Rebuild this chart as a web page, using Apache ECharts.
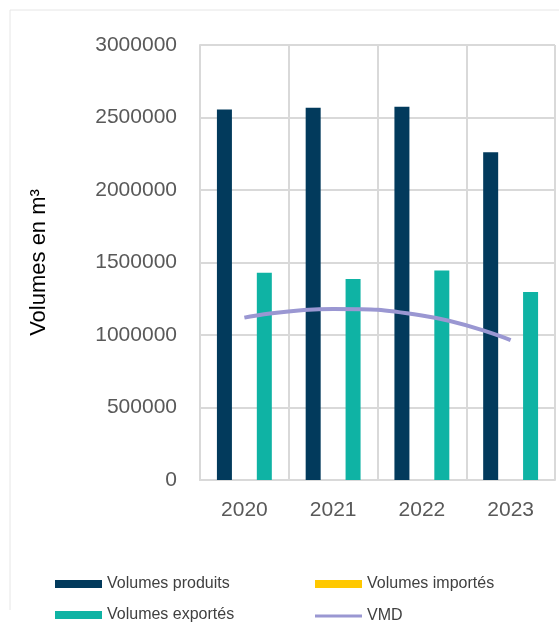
<!DOCTYPE html>
<html>
<head>
<meta charset="utf-8">
<script src="https://cdn.jsdelivr.net/npm/echarts@6/dist/echarts.min.js"></script>
<style>
  html, body { margin: 0; padding: 0; background: #fff; }
  #container { width: 559px; height: 626px; }
</style>
</head>
<body>
<div id="container"></div>
<script>
(function() {
"use strict";

    // data
    var years = ['2020', '2021', '2022', '2023'];
    var produits = [2555000, 2568000, 2575000, 2260000];
    var importes = [0, 0, 0, 0];
    var exportes = [1430000, 1386000, 1444000, 1297000];
    var vmd = [1120000, 1180000, 1135000, 965000];
    var yTicks = [0, 500000, 1000000, 1500000, 2000000, 2500000, 3000000];

    var font = '"Liberation Sans", Arial, sans-serif';
    var gridColor = '#d9d9d9';

    var dom = document.getElementById("container");
    var myChart = echarts.init(dom, null, { renderer: 'canvas' });

    function legendItem(name, left, top, h) {
        return {
            data: [name],
            left: left,
            top: top,
            itemWidth: 47,
            itemHeight: h,
            icon: 'rect',
            itemGap: 0,
            selectedMode: false,
            textStyle: { fontFamily: font, fontSize: 16, color: '#404040' }
        };
    }

    var option = {
        animation: false,
        backgroundColor: '#fff',
        grid: { left: 200, right: 4, top: 45, bottom: 146 },
        legend: [
            legendItem('Volumes produits', 50, 571, 8),
            legendItem('Volumes importés', 310, 571, 8),
            legendItem('Volumes exportés', 50, 602, 8),
            legendItem('VMD', 310, 603, 3)
        ],
        graphic: [{
            type: 'polyline',
            shape: { points: [[10, 610], [10, 10], [559, 10]] },
            style: { stroke: '#e6e6e6', lineWidth: 1, fill: null },
            silent: true
        }],
        xAxis: {
            type: 'category',
            data: years,
            boundaryGap: true,
            axisLine: { show: true, lineStyle: { color: gridColor, width: 2 } },
            axisTick: { show: false },
            axisLabel: { fontFamily: font, fontSize: 21, color: '#595959', margin: 20 },
            splitLine: { show: true, lineStyle: { color: gridColor, width: 2 } }
        },
        yAxis: {
            type: 'value',
            min: yTicks[0],
            max: yTicks[yTicks.length - 1],
            interval: 500000,
            name: 'Volumes en m³',
            nameLocation: 'middle',
            nameGap: 150,
            nameRotate: 90,
            nameTextStyle: { fontFamily: font, fontSize: 22, color: '#000' },
            axisLine: { show: true, lineStyle: { color: gridColor, width: 2 } },
            axisTick: { show: false },
            axisLabel: {
                fontFamily: font, fontSize: 21, color: '#595959', margin: 23,
                formatter: function(v) { return String(v); }
            },
            splitLine: { show: true, lineStyle: { color: gridColor, width: 2 } }
        },
        series: [{
            name: 'Volumes produits',
            type: 'bar',
            data: produits,
            barWidth: 15,
            barGap: '33%',
            itemStyle: { color: '#023a5c' }
        }, {
            name: 'Volumes importés',
            type: 'bar',
            data: importes,
            barWidth: 15,
            barGap: '33%',
            itemStyle: { color: '#ffc800' }
        }, {
            name: 'Volumes exportés',
            type: 'bar',
            data: exportes,
            barWidth: 15,
            barGap: '33%',
            itemStyle: { color: '#0fb3a4' }
        }, {
            name: 'VMD',
            type: 'line',
            data: vmd,
            smooth: true,
            symbol: 'none',
            lineStyle: { color: '#9a97d2', width: 4 },
            itemStyle: { color: '#9a97d2' }
        }]
    };

    myChart.setOption(option);

})();
</script>
</body>
</html>
